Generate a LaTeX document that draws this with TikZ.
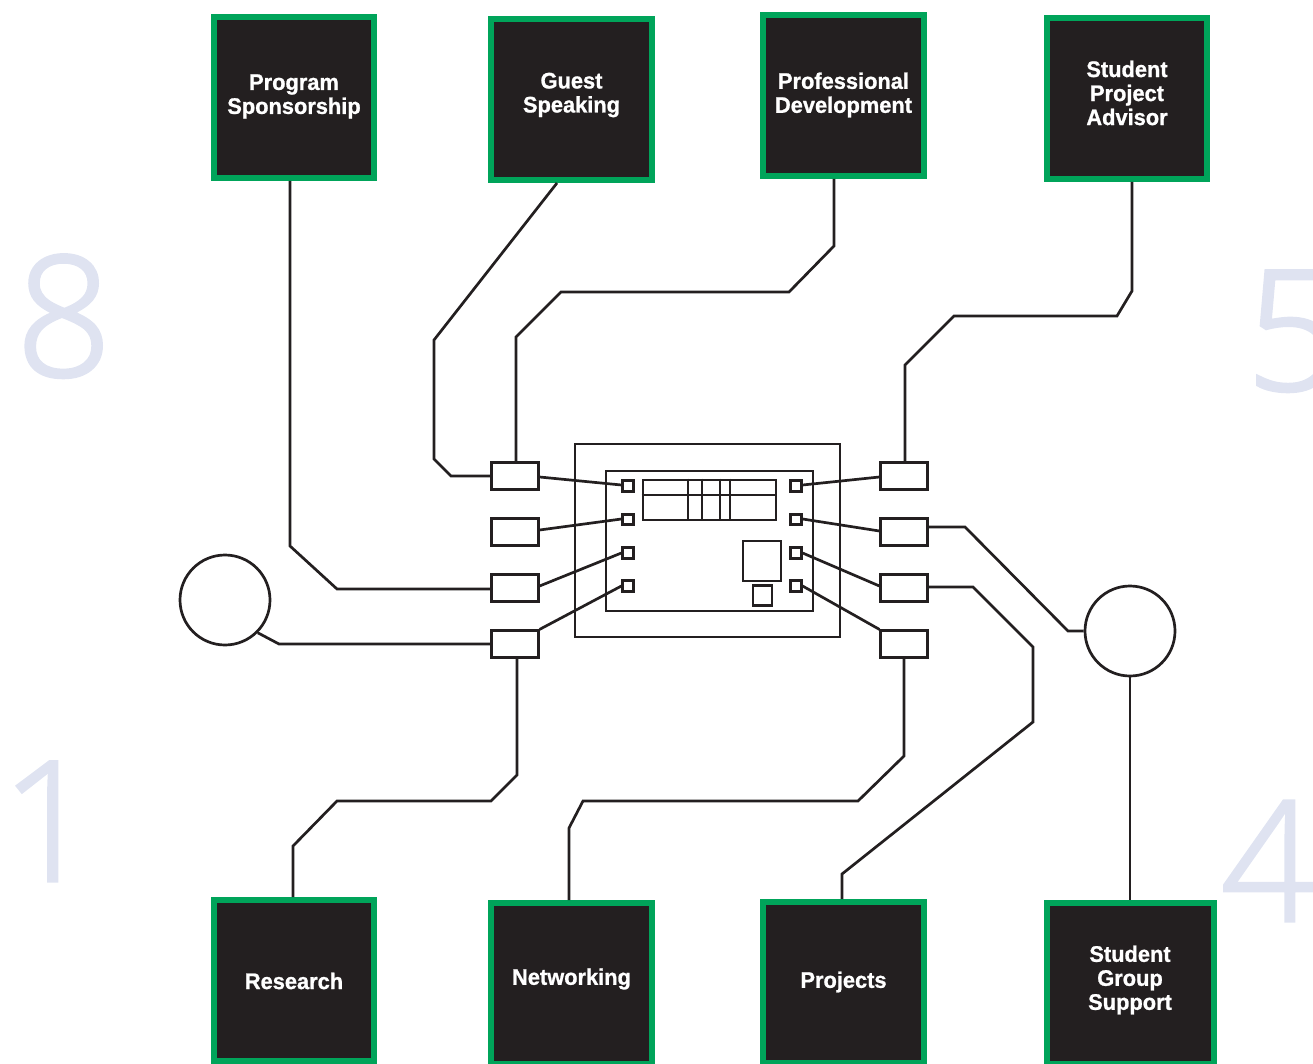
\documentclass[tikz,border=0pt]{standalone}
\usepackage{fontspec}
\setmainfont{Liberation Sans}[BoldFeatures={FakeStretch=0.97,FakeBold=1}]
\newfontfamily\digitfont[FakeBold=2]{Open Sans Light}
\definecolor{gr}{HTML}{00A45A}
\definecolor{bx}{HTML}{231F20}
\definecolor{dg}{HTML}{DFE3F1}
\tikzset{
 card/.style={draw=gr,fill=bx,line width=6pt,inner sep=0pt,minimum width=160.5pt,minimum height=161pt},
 cardtext/.style={text=white,align=center,inner sep=0pt,font=\fontsize{22.5}{24}\selectfont\bfseries},
 lineb/.style={draw=bx,line width=2.7pt,line join=miter},
 encl/.style={draw=bx,line width=2.9pt,inner sep=0pt},
 port/.style={lineb,fill=white,minimum width=46.5pt,minimum height=26.5pt,inner sep=0pt},
 pin/.style={lineb,fill=white,minimum width=10.5pt,minimum height=10.5pt,inner sep=0pt},
 hub/.style={lineb,circle,fill=white,minimum size=90pt,inner sep=0pt},
 bignum/.style={text=dg,font=\digitfont\fontsize{167}{167}\selectfont,inner sep=0pt,anchor=base west},
}
\begin{document}
\begin{tikzpicture}[x=1pt,y=-1pt]
\useasboundingbox (0,0) rectangle (1313,1064);
\clip (0,0) rectangle (1313,1064);
\node[bignum] (n8) at (16,376) {8};
\node[bignum] (n5) at (1246,390) {5};
\node[bignum] (n1) at (1,881) {1};
\node[bignum] (n4) at (1221,921) {4};

\node[card] (prog) at (294,97.5) {};
\node[card] (guest) at (571.5,99.5) {};
\node[card] (prof) at (843.5,95.5) {};
\node[card] (adv) at (1127,98.5) {};
\node[card] (res) at (294,980.5) {};
\node[card] (net) at (571.5,983.5) {};
\node[card] (proj) at (843.5,982.5) {};
\node[card,minimum width=167pt] (sup) at (1130,983.5) {};
\node[cardtext] (progt) at (294,96.5) {Program\\Sponsorship};
\node[cardtext] (guestt) at (571.5,95) {Guest\\Speaking};
\node[cardtext] (proft) at (843.5,95) {Professional\\Development};
\node[cardtext] (advt) at (1127,93) {Student\\Project\\Advisor};
\node[cardtext] (rest) at (294,981) {Research};
\node[cardtext] (nett) at (571.5,979) {Networking};
\node[cardtext] (projt) at (843.5,982) {Projects};
\node[cardtext] (supt) at (1130,980) {Student\\Group\\Support};

\node[encl,minimum width=265pt,minimum height=193pt] (outer) at (707.5,540.5) {};
\node[encl,minimum width=207pt,minimum height=140pt] (inner) at (709.5,541) {};
\node[encl,minimum width=133pt,minimum height=40pt] (panel) at (709.5,500) {};
\draw[encl] (panel.west |- 0,495) -- (panel.east |- 0,495);
\foreach \vx in {688,702,720,730} \draw[encl] (\vx,0 |- panel.north) -- (\vx,0 |- panel.south);
\node[encl,minimum width=38pt,minimum height=40pt] (big) at (762,561) {};
\node[encl,minimum width=19pt,minimum height=20pt] (small) at (762.5,595.5) {};

\foreach \nm/\py/\qy in {1/476/486,2/532/519.5,3/588/553,4/644/586}{
 \node[port] (L\nm) at (515,\py) {};
 \node[port] (R\nm) at (904,\py) {};
 \node[pin] (a\nm) at (628,\qy) {};
 \node[pin] (b\nm) at (796,\qy) {};
}
\draw[lineb] (L1.east |- 0,477) -- (a1.west |- 0,485);
\draw[lineb] (L2.east |- 0,530) -- (a2.west |- 0,519);
\draw[lineb] (L3.east |- 0,586) -- (a3.west |- 0,553);
\draw[lineb] (L4.north east) -- (a4.west |- 0,586);
\draw[lineb] (R1.west |- 0,477) -- (b1.east |- 0,485);
\draw[lineb] (R2.west |- 0,531) -- (b2.east |- 0,519);
\draw[lineb] (R3.west |- 0,586) -- (b3.east |- 0,553);
\draw[lineb] (R4.north west) -- (b4.east |- 0,586);

\node[hub] (cl) at (225,600) {};
\node[hub] (cr) at (1130,631) {};

\draw[lineb] (290,0 |- prog.south) -- (290,546) -- (337,589) -- (L3.west |- 0,589);
\draw[lineb] (557,0 |- guest.south) -- (434,340) -- (434,459) -- (451,476) -- (L1.west);
\draw[lineb] (834,0 |- prof.south) -- (834,246) -- (789,292) -- (561,292) -- (516,337) -- (516,0 |- L1.north);
\draw[lineb] (1132,0 |- adv.south) -- (1132,291) -- (1117,316) -- (954,316) -- (905,365) -- (905,0 |- R1.north);
\draw[lineb] (cl.-45) -- (279,644) -- (L4.west);
\draw[lineb] (517,0 |- L4.south) -- (517,775) -- (491,801) -- (337,801) -- (293,846) -- (293,0 |- res.north);
\draw[lineb] (904,0 |- R4.south) -- (904,756) -- (858,801) -- (583,801) -- (569,828) -- (569,0 |- net.north);
\draw[lineb] (R3.east |- 0,587) -- (973,587) -- (1033,647) -- (1033,722) -- (842,874) -- (842,0 |- proj.north);
\draw[lineb] (R2.east |- 0,527) -- (965,527) -- (1068,631) -- (cr.west);
\draw[lineb] (cr.south) -- (sup.north -| cr.south);
\end{tikzpicture}
\end{document}
